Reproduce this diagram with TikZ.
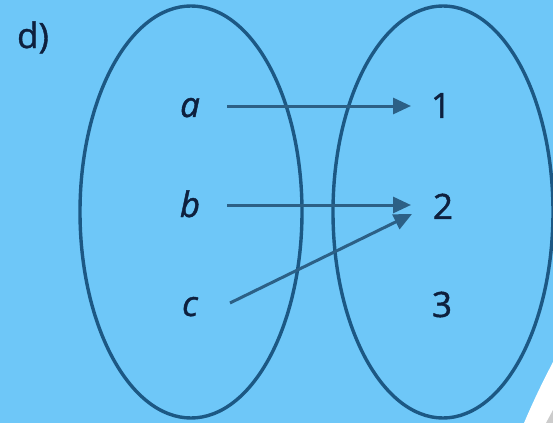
\documentclass[tikz,border=0pt]{standalone}
\usepackage{fontspec}
\setmainfont{Open Sans}
\newfontfamily\lblfont[FakeBold=1.2]{Open Sans}
\usetikzlibrary{arrows.meta,calc}
\definecolor{bgblue}{RGB}{110,199,248}
\definecolor{ringblue}{RGB}{28,88,132}
\definecolor{arrowblue}{RGB}{44,96,134}
\definecolor{inkblue}{RGB}{14,32,62}
\tikzset{
  ring/.style={draw=ringblue,line width=1.7pt},
  lbl/.style={text=inkblue,font=\lblfont\fontsize{17.5}{20}\selectfont,inner sep=0pt,anchor=base},
  arr/.style={draw=arrowblue,line width=1.5pt,-{Triangle[length=9pt,width=8pt]}}
}
\begin{document}
\begin{tikzpicture}[x=0.5pt,y=-0.5pt]
\useasboundingbox (0,0) rectangle (553,423);
\fill[bgblue] (0,0) rectangle (553,423);
\fill[white] (553,362) .. controls (541,385) and (533,402) .. (524,423) -- (553,423) -- cycle;
\fill[gray!40] (553,410) -- (546,423) -- (553,423) -- cycle;
\draw[ring] (191,212) ellipse [x radius=111, y radius=206];
\draw[ring] (443,212) ellipse [x radius=110, y radius=206];
\node[lbl] (d) at (33,48) {d)};
\node[lbl] (a) at (190,117) {\itshape a};
\node[lbl] (b) at (190,217) {\itshape b};
\node[lbl] (c) at (190,316) {\itshape c};
\node[lbl] (one) at (441,118) {1};
\node[lbl] (two) at (443,219) {2};
\node[lbl] (three) at (442,317) {3};
\coordinate (as) at (227,106);
\coordinate (ae) at (411,106);
\coordinate (bs) at (227,205);
\coordinate (be) at (411,205);
\coordinate (cs) at (230,303);
\coordinate (ce) at (412,214);
\draw[arr] (as) -- (ae);
\draw[arr] (bs) -- (be);
\draw[arr] (cs) -- (ce);
\end{tikzpicture}
\end{document}
